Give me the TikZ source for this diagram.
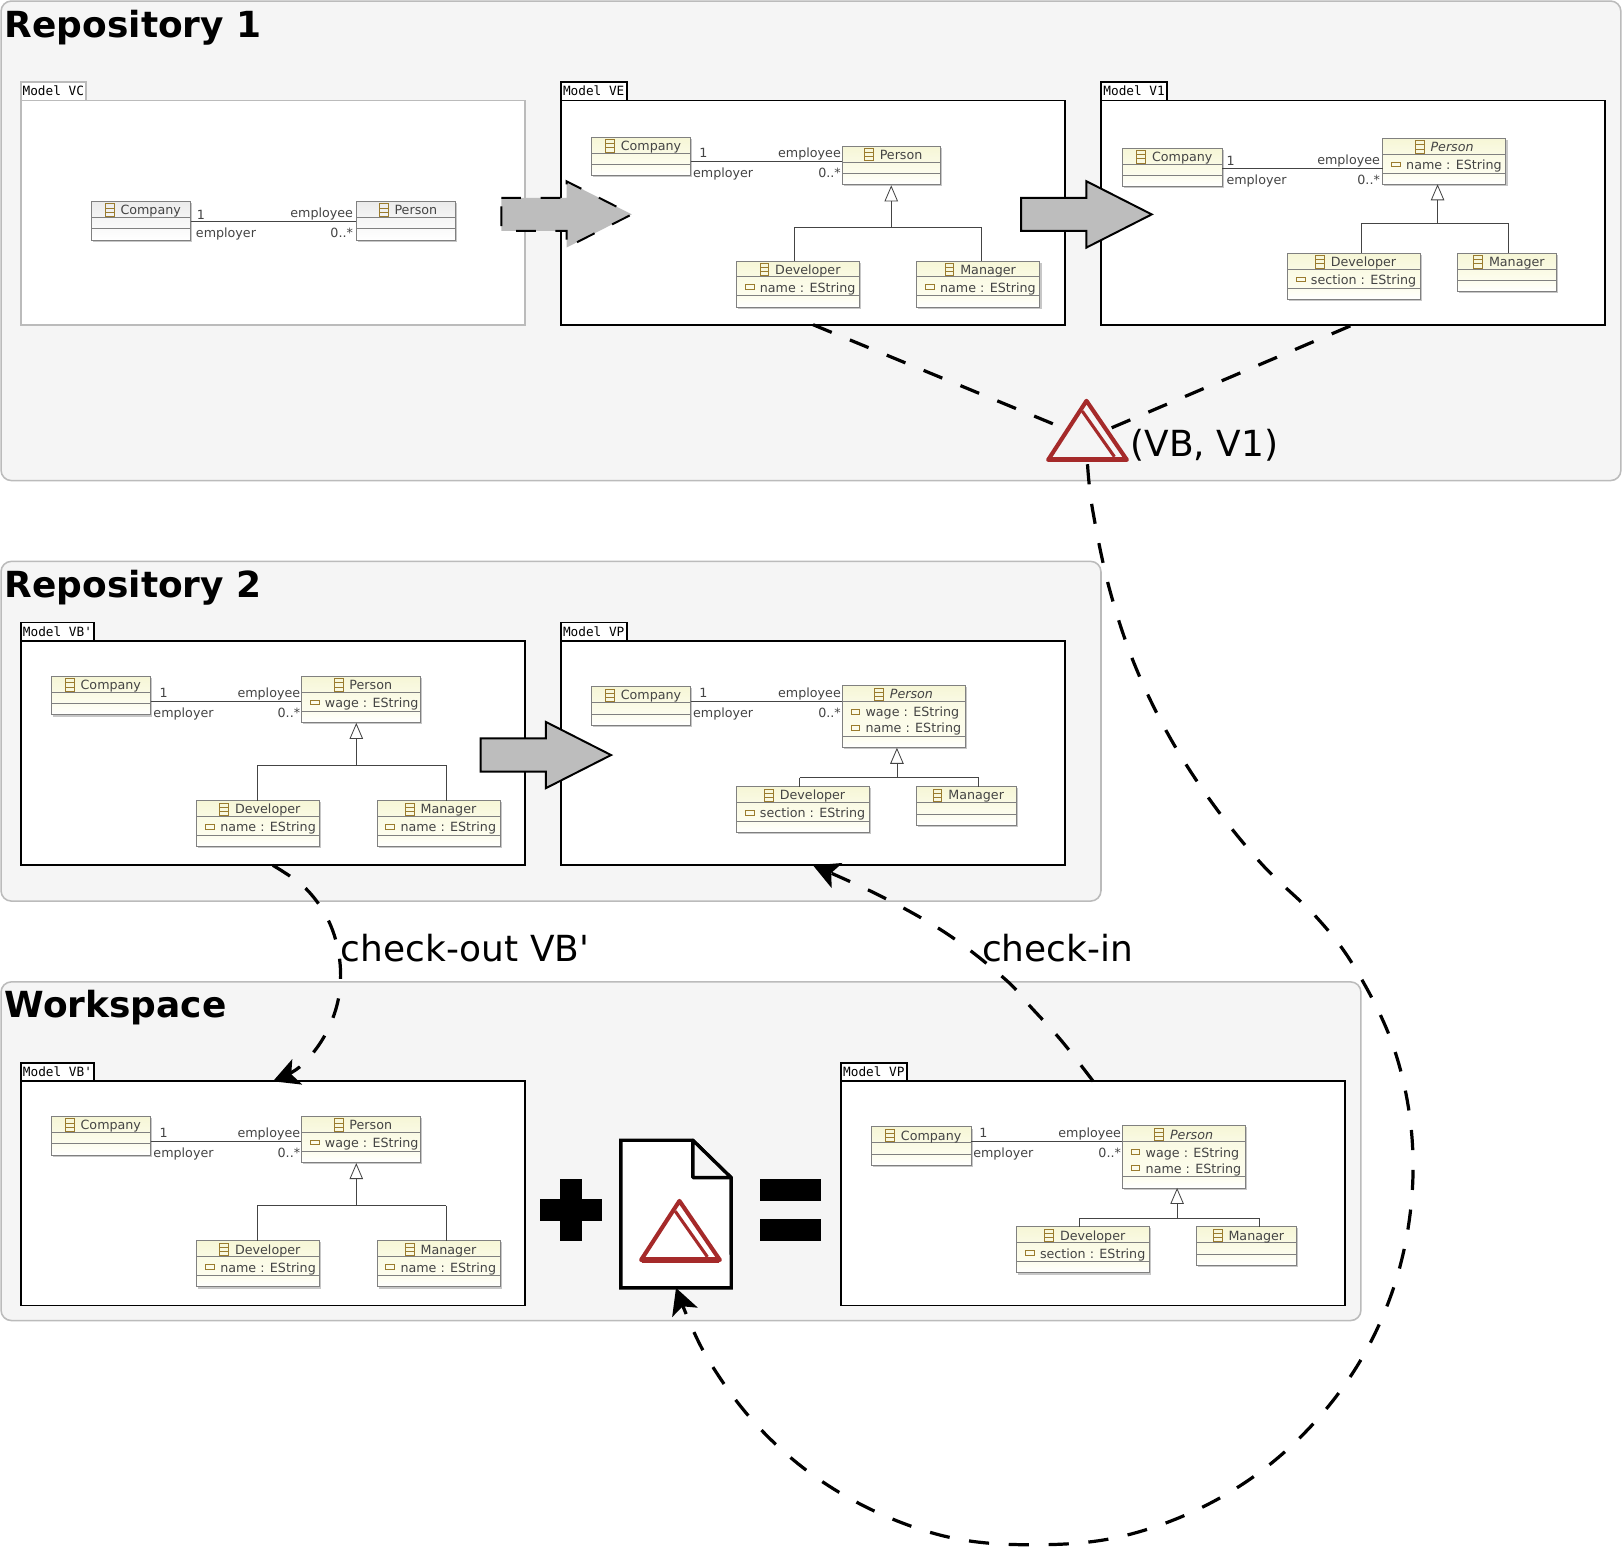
\documentclass[tikz,border=0pt]{standalone}
\usepackage{fontspec}
\setmainfont{DejaVu Sans}
\setmonofont{DejaVu Sans Mono}
\usetikzlibrary{calc}
\usetikzlibrary{arrows.meta}
\usetikzlibrary{shadows}
\definecolor{panelgray}{HTML}{F5F5F5}
\definecolor{panelline}{HTML}{BBBBBB}
\definecolor{arrowgray}{HTML}{BDBDBD}
\definecolor{deltared}{HTML}{A52A2A}
\definecolor{classtext}{HTML}{444444}
\definecolor{classrule}{HTML}{808080}
\definecolor{classicon}{HTML}{9A7B2E}
\colorlet{framecolor}{black}
\definecolor{headtop}{HTML}{F6F6D6}
\definecolor{headbot}{HTML}{FAFAE4}
\definecolor{attrbot}{HTML}{FDFDEE}
\newcommand\classbox[6]{
  \node [classbody, minimum width=#4, minimum height=26.2+#5] (#1) at (#2,#3) {};
  \shade [top color=headtop, bottom color=headbot] (#2,#3) rectangle ++(#4,15.4);
  \shade [top color=headbot, bottom color=attrbot] (#2,#3+15.4) rectangle ++(#4,#5);
  \shade [top color=attrbot, bottom color=white] (#2,#3+15.4+#5) rectangle ++(#4,10.8);
  \draw [classedge] (#2,#3+15.4) -- ++(#4,0) (#2,#3+15.4+#5) -- ++(#4,0);
  \draw [classedge] (#1.north west) rectangle (#1.south east);
  \node [classlabel, anchor=base] (#1t) at ([shift={(9.5,12.8)}]#1.north) {#6};
  \draw [classglyph] ([shift={(-14.5,-10.5)}]#1t.base west) rectangle ++(8.4,12)
    ([shift={(-14.5,-6.5)}]#1t.base west) -- ++(8.4,0)
    ([shift={(-14.5,-2.5)}]#1t.base west) -- ++(8.4,0);
}
\newcommand\classattr[4]{
  \draw [classglyph] ([shift={(8.6,#3-2.2)}]#1.north west) rectangle ++(8.4,4.4);
  \node [classlabel, anchor=base west] (#1#2) at ([shift={(22.5,#3+5)}]#1.north west) {#4};
}
\newcommand\assoc[7]{
  \draw [classline, line width=.9pt] (#1.east |- 0,#3) -- (#2.west |- 0,#3);
  \node [classlabel, anchor=base west] (#1one) at ([shift={(#4,#5)}]#1.east |- 0,#3) {1};
  \node [classlabel, anchor=base west] (#1role) at ([shift={(#6,15.5)}]#1.east |- 0,#3) {employer};
  \node [classlabel, anchor=base east] (#2role) at ([shift={(#7,-3.8)}]#2.west |- 0,#3) {employee};
  \node [classlabel, anchor=base east] (#2many) at ([shift={(#7,15.5)}]#2.west |- 0,#3) {0..*};
}
\newcommand\genset[7]{
  \draw [classline, fill=white] (#1-6,#2+14) -- (#1,#2) -- (#1+6,#2+14) -- cycle;
  \draw [classline] (#1,#2+14) -- (#1,#3);
  \draw [classline] (#4,#3) -- (#6,#3);
  \draw [classline] (#4,#3) -- (#4,0 |- #5.north);
  \draw [classline] (#6,#3) -- (#6,0 |- #7.north);
}
\newcommand\modelframe[4]{
  \node [modelbody] (frame) at (#1,#2) {};
  \node [modeltab, minimum width=#3] (tab) at (frame.north west) {#4};
}
\tikzset{
  panel/.style={draw=panelline, fill=panelgray, line width=1.5pt, rounded corners=10pt},
  heading/.style={font=\fontsize{34.7}{40}\selectfont\bfseries, anchor=base west, inner sep=0pt},
  biglabel/.style={font=\fontsize{34.7}{40}\selectfont, anchor=base west, inner sep=0pt},
  modelbody/.style={draw=framecolor, fill=white, line width=1.8pt, anchor=north west, outer sep=0pt,
    inner sep=0pt, minimum width=487, minimum height=216.5},
  modeltab/.style={draw=framecolor, fill=white, line width=1.8pt, anchor=south west, outer sep=0pt,
    inner sep=0pt, minimum height=18, font=\ttfamily\fontsize{12.3}{14}\selectfont},
  classbody/.style={anchor=north west, outer sep=0pt, inner sep=0pt, fill=white,
    copy shadow={shadow xshift=1.6pt, shadow yshift=-1.6pt, draw=none, fill=black!22}},
  classedge/.style={draw=classrule, line width=.9pt},
  classline/.style={draw=classtext, line width=.8pt},
  classglyph/.style={draw=classicon, line width=.8pt},
  classlabel/.style={font=\fontsize{12.25}{14}\selectfont, text=classtext, inner sep=0pt},
  linkdash/.style={line width=3.1pt, dash pattern=on 19.5pt off 19pt},
  linkhead/.style={-{Stealth[length=25pt, width=26pt, inset=6pt]}},
  deltaline/.style={draw=deltared, line width=4pt},
  modelvc/.pic={
    \colorlet{framecolor}{panelline}
    \colorlet{headtop}{black!8}
    \colorlet{headbot}{black!4}
    \colorlet{attrbot}{black!2}
    \modelframe{20}{97}{63}{Model VC}
    \classbox{co}{88}{194.5}{96}{11}{Company}
    \classbox{pe}{344}{194.5}{96}{11}{Person}
    \assoc{co}{pe}{213.5}{6}{-2}{5}{-3}
  },
  modelve/.pic={
    \modelframe{541.5}{97}{63.5}{Model VE}
    \classbox{co}{571}{132.5}{96}{11}{Company}
    \classbox{pe}{813}{141}{95}{11}{Person}
    \classbox{de}{711}{252}{119}{18.3}{Developer}
    \classattr{de}{a}{25.2}{name : EString}
    \classbox{ma}{885}{252}{119}{18.3}{Manager}
    \classattr{ma}{a}{25.2}{name : EString}
    \assoc{co}{pe}{155.7}{8}{-3.9}{2}{-1}
    \genset{860.5}{180}{219.5}{767}{de}{947.5}{ma}
  },
  modelvone/.pic={
    \modelframe{1063}{97}{64}{Model V1}
    \classbox{co}{1084}{143}{96}{11}{Company}
    \classbox{pe}{1335}{133.5}{119}{18.3}{\itshape Person\hspace*{4pt}}
    \classattr{pe}{a}{25.2}{name : EString}
    \classbox{de}{1243}{244.5}{128}{18.3}{Developer}
    \classattr{de}{a}{25.2}{section : EString}
    \classbox{ma}{1407}{244.5}{96}{11}{Manager}
    \assoc{co}{pe}{162.4}{4}{-2.3}{4}{-2.5}
    \genset{1388}{179}{215.5}{1314}{de}{1456}{ma}
  },
  modelvb/.pic={
    \modelframe{20}{619}{71}{Model VB'}
    \classbox{co}{49.5}{653}{96}{11}{Company}
    \classbox{pe}{291}{653}{115}{18.3}{Person}
    \classattr{pe}{a}{25.2}{wage : EString}
    \classbox{de}{190}{773}{118}{18.3}{Developer}
    \classattr{de}{a}{25.2}{name : EString}
    \classbox{ma}{364}{773}{119}{18.3}{Manager}
    \classattr{ma}{a}{25.2}{name : EString}
    \assoc{co}{pe}{677.5}{8.5}{-3.9}{2.5}{-1}
    \genset{344}{699}{739}{248.5}{de}{431}{ma}
  },
  modelvp/.pic={
    \modelframe{541.5}{619}{63.5}{Model VP}
    \classbox{co}{571}{663}{96}{11}{Company}
    \classbox{pe}{813}{662}{119}{33.8}{\itshape Person\hspace*{4pt}}
    \classattr{pe}{a}{25.2}{wage : EString}
    \classattr{pe}{b}{40.7}{name : EString}
    \classbox{de}{711}{759.5}{128}{18.3}{Developer}
    \classattr{de}{a}{25.2}{section : EString}
    \classbox{ma}{885}{759.5}{96}{11}{Manager}
    \assoc{co}{pe}{677.5}{8}{-3.9}{2}{-1}
    \genset{866}{723}{751}{772}{de}{945}{ma}
  },
  bigarrow/.pic={
    \draw [draw=black, fill=arrowgray, line width=1.9pt, pic actions]
      (0,-16) -- (63,-16) -- (63,-32) -- (126,0) -- (63,32) -- (63,16) -- (0,16) -- cycle;
  },
  deltamark/.pic={
    \draw [deltaline, line join=round] (-38,27) -- (-1,-30) -- (38,27) -- cycle;
    \draw [deltaline, line width=3pt] (-5,-20) -- (26,24);
    \draw [deltaline, line width=5pt] (-37,27) -- (37,27);
  },
}

\begin{document}
\begin{tikzpicture}[x=1pt,y=-1pt]
  \useasboundingbox (0,0) rectangle (1568,1494.6);
  \fill [white] (0,0) rectangle (1568,1494.6);

  \draw [panel] (1,1) rectangle (1565,464);
  \draw [panel] (1,542) rectangle (1063,870);
  \draw [panel] (1,948) rectangle (1314,1275);
  \node [heading] (repoa) at (4.5,36) {Repository 1};
  \node [heading] (repob) at (4.5,577) {Repository 2};
  \node [heading] (work) at (4.5,982) {Workspace};

  \pic (vc) at (0,0) {modelvc};
  \pic (ve) at (0,0) {modelve};
  \pic (vo) at (0,0) {modelvone};
  \pic (rb) at (0,0) {modelvb};
  \pic (rp) at (0,0) {modelvp};
  \pic (wb) at (0,425) {modelvb};
  \pic (wp) at (270.5,425) {modelvp};

  \pic [dash pattern=on 19pt off 19pt] at (484,207) {bigarrow};
  \foreach \Point in {(986,207), (464,729)}{
      \pic at \Point {bigarrow};
    }

  % the plus and equals signs between the models
  \fill (521,1158) rectangle (581,1179);
  \fill (540.5,1138.5) rectangle (561.5,1198.5);
  \fill (733.5,1138.5) rectangle (793,1159.5);
  \fill (733.5,1177) rectangle (793,1198.5);

  \node [minimum width=106.5, minimum height=142.5, inner sep=0pt, outer sep=0pt] (doc) at (652.7,1172.2) {};
  \draw [line width=3.2pt, fill=white] (doc.north west) -- (669,1101) -- (705.9,1137) -- (doc.south east) -- (doc.south west) -- cycle;
  \draw [line width=3.2pt, fill=panelgray, line join=round] (669,1101) -- (669,1137) -- (705.9,1137) -- cycle;

  \node [circle, minimum size=50, inner sep=0pt] (delta) at (1050,423) {};
  \foreach \Point in {(1050,417), (657,1189.5)}{
      \pic at \Point {deltamark};
    }
  \node [biglabel] (vbvo) at (1091.5,441) {(VB, V1)};
  \node [biglabel] (out) at (329,928) {check-out VB\textquotesingle};
  \node [biglabel] (in) at (948,928) {check-in};

  \draw [linkdash] (veframe.south) -- (delta);
  \draw [linkdash, shorten <=3pt] (voframe.south) -- (delta);
  \draw [linkdash, linkhead] plot [smooth, tension=.6] coordinates {(rbframe.south) (295,857.6) (317.4,889.3) (328,927) (326.5,965.6) (312.6,1001.5) (289.5,1030) (wbframe.north)};
  \draw [linkdash, linkhead] plot [smooth, tension=.6] coordinates {(wpframe.north) (1025,1005) (995,972) (970,945) (915,902) (850,865) (rpframe.south)};
  \draw [linkdash, linkhead] plot [smooth, tension=.6] coordinates {(delta.south) (1054.9,492.1) (1071,567.9) (1095.2,641) (1128.9,710.9) (1170.7,775.7) (1218.9,835) (1272,886.6) (1308.4,934.8) (1343.5,1005.4) (1361.5,1080.7) (1363,1157.5) (1348.4,1234.4) (1317.7,1306.4) (1272.9,1369.2) (1215.8,1421.8) (1148.6,1461) (1074.5,1485.2) (997.5,1491.5) (921,1485.2) (848,1460.7) (781.2,1421.5) (724.6,1369.2) (679.8,1305.7) (doc.south)};
\end{tikzpicture}
\end{document}
